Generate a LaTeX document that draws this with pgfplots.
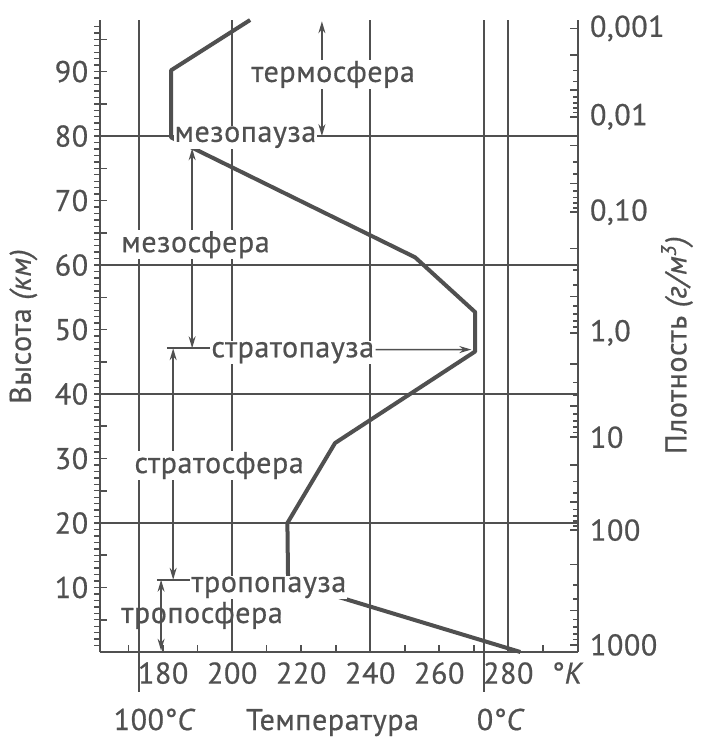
\documentclass[border=0pt]{standalone}
\usepackage{fontspec}
\setmainfont{PT Sans}[FakeBold=0.6, LetterSpace=2]
\usepackage{pgfplots}
\pgfplotsset{compat=1.18}
\usetikzlibrary{arrows.meta}
\definecolor{ink}{HTML}{505050}
\newcommand\fs{\fontsize{15}{17}\selectfont}

\begin{document}
\begin{tikzpicture}
\begin{axis}[
  at={(0,0)}, anchor=south west,
  scale only axis, width=239pt, height=316pt,
  xmin=161.7, xmax=300.2, ymin=0, ymax=98,
  axis x line*=bottom, axis y line*=left,
  axis line style={-, line width=1.2pt, ink},
  tick align=inside,
  major tick length=3.3pt, minor tick length=3.3pt,
  every tick/.style={ink, line width=0.8pt},
  xtick={180,200,...,280}, minor xtick={170,190,...,290},
  ytick={10,20,...,90}, minor ytick={5,15,...,95},
  tick label style={font=\fs, text=ink},
  xticklabel style={yshift=-1.6pt},
  yticklabel style={xshift=-2.4pt},
  /pgf/number format/assume math mode=true,
  clip=false,
]
% outward 1 km ticks on the height axis
\pgfplotsinvokeforeach{1,2,...,97}{
  \draw[ink, line width=0.7pt] (axis cs:161.7,#1) -- (axis cs:160.1,#1);
}
% grid lines
\draw[ink, line width=1pt] (173,-6.2) -- (173,98);
\draw[ink, line width=0.9pt] (200,0) -- (200,98);
\draw[ink, line width=1pt] (240,0) -- (240,98);
\draw[ink, line width=1pt] (273,-6.2) -- (273,98);
\draw[ink, line width=0.9pt] (280,0) -- (280,98);
\draw[ink, line width=0.9pt] (161.7,20) -- (300.2,20);
\draw[ink, line width=0.9pt] (161.7,40) -- (300.2,40);
\draw[ink, line width=0.9pt] (161.7,60) -- (300.2,60);
\draw[ink, line width=0.9pt] (161.7,80) -- (300.2,80);

% layer arrows
\tikzset{lay/.style={ink, line width=0.8pt, {Stealth[length=6pt,width=3.5pt]}-{Stealth[length=6pt,width=3.5pt]}}}
\draw[lay] (226,97.8) -- (226,80);
\draw[lay] (188.4,78.1) -- (188.4,47.1);
\draw[lay] (182.9,47.1) -- (182.9,11.2);
\draw[lay] (179.4,11.2) -- (179.4,0.2);
\draw[ink, line width=0.8pt] (181.1,47.1) -- (193.6,47.1);
\draw[ink, line width=0.8pt] (178.2,11.2) -- (187.8,11.2);

% temperature profile
\addplot[ink, line width=2pt, line join=round] coordinates {
  (283.5,0) (216.2,10.9) (216,20) (229.8,32.4) (270.4,46.6)
  (270.4,52.7) (253,61.2) (182.3,79.8) (182.3,90.2) (205.2,98)
};

\tikzset{lbl/.style={font=\fs, text=ink, fill=white, inner sep=0.5pt, anchor=base west}}
\node[lbl] at (205.2,88.4) {термосфера};
\node[lbl] at (182.9,79.1) {мезопауза};
\node[lbl] at (167.5,62.0) {мезосфера};
\node[lbl] (sp) at (193.6,45.7) {стратопауза};
\node[lbl] at (171.3,27.75) {стратосфера};
\node[lbl] at (187.8,9.3) {тропопауза};
\node[lbl, fill=none] at (167.5,4.5) {тропосфера};
\draw[ink, line width=0.8pt, -{Stealth[length=6pt,width=3.5pt]}] ([yshift=3.8pt]sp.base east) -- (269.3,46.9);

% bottom texts
\node[font=\fs, text=ink, anchor=base] at (177.6,-12.1) {100°\textit{C}};
\node[font=\fs, text=ink, anchor=base] at (229.1,-12.1) {Температура};
\node[font=\fs, text=ink, anchor=base] at (277.9,-12.1) {0°\textit{C}};
\node[font=\fs, text=ink, anchor=north, yshift=-1.6pt] at (297.3,0) {°\textit{K}};

% axis titles
\node[font=\fs, text=ink, rotate=90] at (139.5,50.5) {Высота \textit{(км)}};
\node[font=\fs, text=ink, rotate=90] at (328.9,47.6) {Плотность \textit{(г/м\textsuperscript{3})}};
\end{axis}

% density axis
\begin{axis}[
  at={(0,0)}, anchor=south west,
  scale only axis, width=239pt, height=316pt,
  xmin=161.7, xmax=300.2, ymin=0, ymax=98,
  hide x axis, axis y line*=right,
  axis line style={-, line width=1.2pt, ink},
  tick align=inside,
  major tick length=4pt, minor tick length=2.5pt,
  every tick/.style={ink, line width=0.8pt},
  ytick={1.1,18.9,33.3,49.5,68.2,83,96.7},
  yticklabels={1000,100,10,{1,0},{0,10},{0,01},{0,001}},
  minor ytick={92.58,90.17,88.45,87.12,86.04,85.12,84.33,83.63,
    78.55,75.94,74.09,72.65,71.49,70.49,69.64,68.88,
    62.57,59.28,56.94,55.13,53.65,52.40,51.31,50.36,
    44.62,41.77,39.75,38.18,36.90,35.81,34.87,34.05,
    28.97,26.43,24.63,23.23,22.10,21.13,20.30,19.56,
    13.54,10.41,8.18,6.46,5.05,3.86,2.83,1.92},
  extra y ticks={92.58,87.12,78.55,72.65,62.57,55.13,44.62,38.18,28.97,23.23,13.54,6.46},
  extra y tick labels={},
  tick label style={font=\fs, text=ink},
  yticklabel style={xshift=2.5pt},
]
\end{axis}
\pgfresetboundingbox
\useasboundingbox (-50pt,-44.5pt) rectangle (302pt,326pt);
\end{tikzpicture}
\end{document}
